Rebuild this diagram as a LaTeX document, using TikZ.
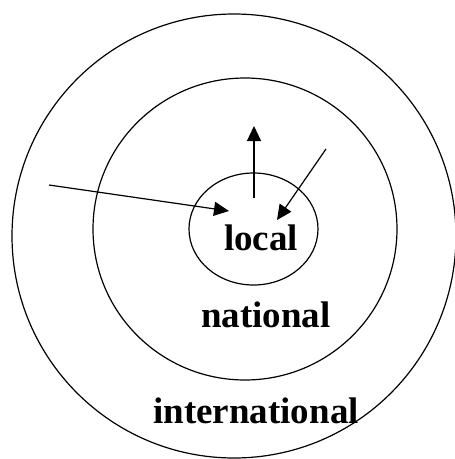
\documentclass[tikz,border=0pt]{standalone}
\usepackage{fontspec}
\setmainfont{Liberation Serif}
\usetikzlibrary{arrows.meta}

\begin{document}
\begin{tikzpicture}[x=1pt, y=-1pt, line width=1.2pt,
  lbl/.style={anchor=base, font=\fontsize{37}{40}\selectfont\bfseries},
  arr/.style={-{Triangle[length=15pt, width=14pt]}}]
  \useasboundingbox (0,0) rectangle (455,459);
  % the three rings
  \draw (234,236) ellipse [x radius=222pt, y radius=222pt];
  \draw (245,229) ellipse [x radius=152pt, y radius=151pt];
  \draw (253.5,229) ellipse [x radius=64.5pt, y radius=56pt];
  % labels
  \node[lbl] (local) at (261,250) {local};
  \node[lbl] (national) at (266,327) {national};
  \node[lbl] (international) at (256,423) {international};
  % arrows
  \coordinate (inA) at (49,185);
  \coordinate (inAend) at (229,211);
  \coordinate (upA) at (254,198);
  \coordinate (upAend) at (254,126);
  \coordinate (inB) at (326,149);
  \coordinate (inBend) at (277,220);
  \draw[arr] (inA) -- (inAend);
  \draw[arr] (upA) -- (upAend);
  \draw[arr] (inB) -- (inBend);
\end{tikzpicture}
\end{document}
